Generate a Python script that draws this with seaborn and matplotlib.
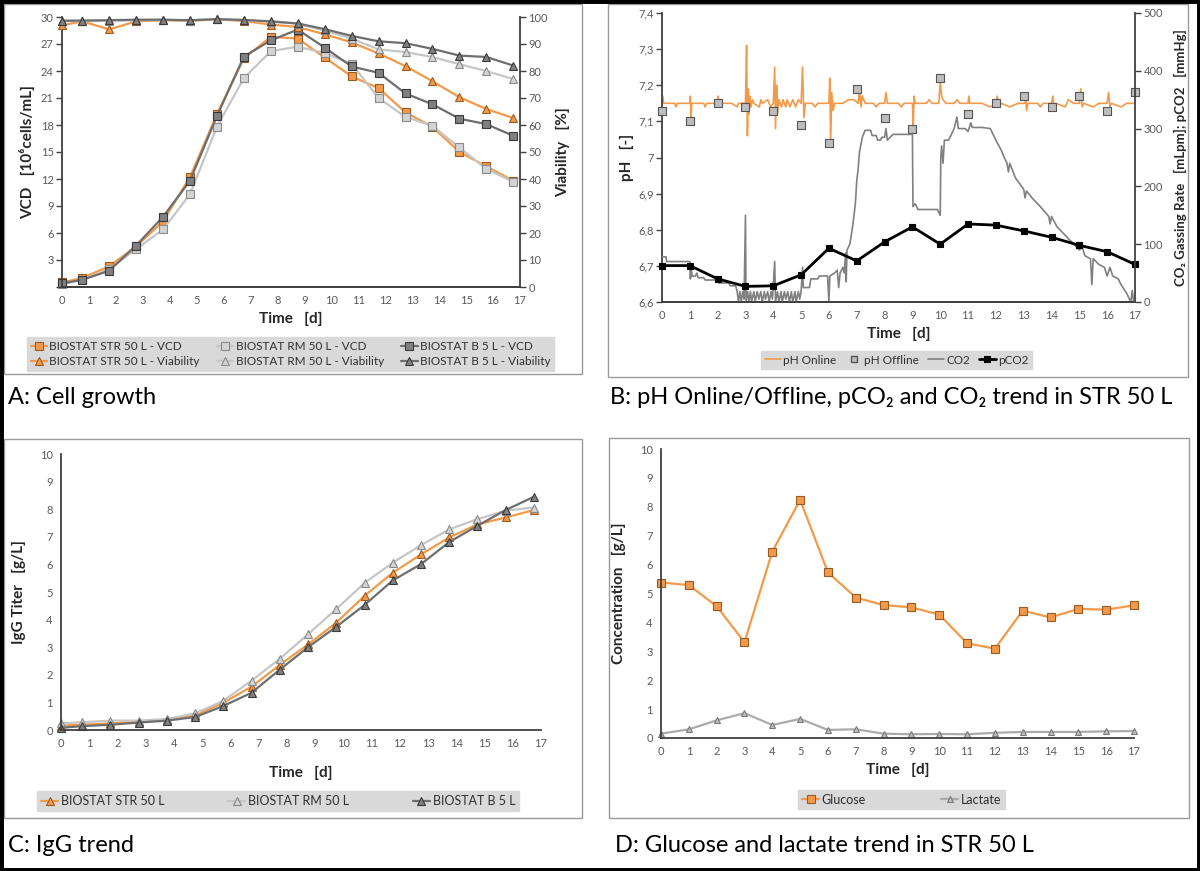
import matplotlib
matplotlib.use('Agg')
import matplotlib.pyplot as plt
from matplotlib.patches import Rectangle
from matplotlib.lines import Line2D
import seaborn as sns

# Time axis of the cell culture samples (A and C)
t_days = [0, 0.75, 1.75, 2.75, 3.75, 4.75, 5.75, 6.75, 7.75, 8.75,
          9.75, 10.75, 11.75, 12.75, 13.75, 14.75, 15.75, 16.75]
# integer days (B offline values, D)
days = [0, 1, 2, 3, 4, 5, 6, 7, 8, 9, 10, 11, 12, 13, 14, 15, 16, 17]

# A: VCD [10^6 cells/mL]
vcd_str = [0.5, 1.0, 2.3, 4.5, 7.3, 12.2, 19.2, 25.4, 27.8, 27.6, 25.5, 23.4, 22.1, 19.4, 17.8, 15.0, 13.4, 11.8]
vcd_rm = [0.3, 0.8, 2.0, 4.2, 6.4, 10.3, 17.8, 23.2, 26.2, 26.7, 26.0, 24.8, 21.0, 18.9, 17.9, 15.5, 13.1, 11.7]
vcd_b5 = [0.4, 0.8, 1.8, 4.6, 7.8, 11.8, 19.0, 25.6, 27.4, 28.6, 26.6, 24.5, 23.8, 21.5, 20.3, 18.7, 18.1, 16.8]
# A: viability [%]
via_str = [96.9, 98.4, 95.4, 98.4, 98.8, 98.6, 99.1, 98.5, 97.2, 96.3, 93.6, 90.6, 86.5, 81.8, 76.2, 70.3, 65.9, 62.6]
via_rm = [98.5, 98.5, 98.6, 98.8, 99.0, 98.7, 99.2, 98.8, 98.2, 97.5, 95.0, 92.0, 88.0, 87.0, 85.2, 82.5, 80.0, 77.0]
via_b5 = [98.6, 98.7, 98.8, 99.0, 99.0, 98.8, 99.2, 98.9, 98.4, 97.6, 95.5, 93.0, 91.0, 90.3, 88.2, 85.7, 85.2, 82.0]

# B: pH online trace
ph_on_t = [0.00, 0.03, 0.06, 0.45, 0.5, 0.55, 1.0, 1.02, 1.04, 1.07, 1.5, 1.55, 1.6, 2.0, 2.02, 2.05,
           2.5, 2.7, 2.75, 3.0, 3.04, 3.07, 3.1, 3.13, 3.16, 3.2, 3.25, 3.3, 3.5, 3.55, 3.6, 3.8, 3.9,
           4.0, 4.05, 4.08, 4.12, 4.15, 4.2, 4.3, 4.35, 4.45, 4.5, 4.6, 4.7, 4.8, 4.9, 5.0, 5.05, 5.1,
           5.15, 5.4, 5.5, 5.6, 6.0, 6.03, 6.06, 6.1, 6.15, 6.2, 6.5, 6.7, 6.9, 7.05, 7.1, 7.15, 7.2,
           7.3, 7.6, 7.7, 7.8, 8.0, 8.05, 8.1, 8.5, 8.6, 8.7, 9.0, 9.03, 9.06, 9.1, 9.5, 9.6, 9.7,
           9.95, 10.0, 10.05, 10.1, 10.2, 10.5, 10.6, 10.7, 11.0, 11.03, 11.06, 11.5, 11.8, 12.0,
           12.05, 12.1, 12.2, 12.5, 12.8, 13.05, 13.08, 13.1, 13.15, 13.5, 13.6, 13.7, 14.0, 14.05,
           14.1, 14.15, 14.5, 14.6, 14.8, 15.0, 15.05, 15.1, 15.15, 15.5, 15.7, 16.0, 16.05, 16.1,
           16.15, 16.5, 16.7, 17.0]
ph_on_v = [7.15, 7.17, 7.15, 7.15, 7.14, 7.15, 7.15, 7.17, 7.11, 7.15, 7.15, 7.14, 7.15, 7.15, 7.17, 7.15,
           7.15, 7.14, 7.15, 7.15, 7.31, 7.06, 7.19, 7.12, 7.17, 7.14, 7.16, 7.15, 7.14, 7.16, 7.15, 7.16, 7.14,
           7.15, 7.25, 7.08, 7.20, 7.12, 7.16, 7.14, 7.16, 7.14, 7.16, 7.14, 7.16, 7.14, 7.16, 7.15, 7.25, 7.11,
           7.15, 7.15, 7.14, 7.15, 7.15, 7.22, 7.04, 7.18, 7.13, 7.15, 7.15, 7.16, 7.16, 7.15, 7.19, 7.14, 7.17,
           7.15, 7.15, 7.14, 7.15, 7.15, 7.18, 7.15, 7.15, 7.14, 7.15, 7.15, 7.09, 7.17, 7.15, 7.15, 7.16, 7.15,
           7.15, 7.21, 7.17, 7.16, 7.15, 7.15, 7.16, 7.15, 7.15, 7.17, 7.15, 7.15, 7.14, 7.15,
           7.17, 7.14, 7.15, 7.14, 7.15, 7.15, 7.17, 7.13, 7.15, 7.15, 7.14, 7.15, 7.15, 7.17,
           7.13, 7.15, 7.14, 7.16, 7.15, 7.15, 7.19, 7.14, 7.15, 7.14, 7.15, 7.15, 7.18, 7.14,
           7.15, 7.14, 7.15, 7.15]
# B: pH offline samples
ph_off = [7.13, 7.10, 7.15, 7.14, 7.13, 7.09, 7.04, 7.19, 7.11, 7.08, 7.22, 7.12, 7.15, 7.17, 7.14, 7.17, 7.13, 7.18]
# B: CO2 gassing rate [mLpm]
co2_t = [0.0, 0.15, 0.16, 1.0, 1.02, 1.05, 1.08, 1.2, 1.25, 1.3, 1.5, 1.55, 2.0, 2.05, 2.4, 2.45, 2.65,
         2.7, 2.75, 2.8, 2.85, 2.9, 2.95, 3.0, 3.02, 3.08, 3.12, 3.18, 3.22, 3.3, 3.35, 3.42, 3.48, 3.55,
         3.6, 3.68, 3.72, 3.8, 3.85, 3.92, 3.97, 4.05, 4.08, 4.15, 4.2, 4.28, 4.32, 4.4, 4.45, 4.52, 4.58,
         4.65, 4.7, 4.78, 4.82, 4.9, 4.95, 5.0, 5.05, 5.08, 5.3, 5.35, 5.6, 5.65, 5.95, 6.0, 6.03, 6.2,
         6.3, 6.35, 6.4, 6.5, 6.55, 6.6, 6.62, 6.65, 6.75, 6.85, 6.95, 7.0, 7.05, 7.1, 7.2, 7.3, 7.5,
         7.55, 7.7, 7.75, 7.85, 7.9, 8.0, 8.05, 8.1, 8.2, 8.3, 9.0, 9.02, 9.1, 9.2, 9.9, 10.0, 10.02,
         10.05, 10.1, 10.15, 10.3, 10.4, 10.5, 10.6, 10.65, 10.9, 11.0, 11.1, 11.15, 11.5, 11.8, 12.0,
         12.2, 12.3, 12.4, 12.45, 12.5, 12.7, 13.0, 13.05, 13.1, 13.3, 13.6, 13.9, 13.95, 14.0, 14.2,
         14.5, 14.8, 15.0, 15.1, 15.2, 15.4, 15.45, 15.5, 15.7, 15.9, 16.0, 16.1, 16.2, 16.4, 16.5,
         16.7, 16.8, 16.85, 16.9, 16.95, 17.0]
co2_v = [78, 78, 70, 70, 40, 60, 45, 45, 50, 42, 42, 38, 38, 33, 33, 28, 28,
         18, 0, 18, 0, 18, 5, 150, 0, 18, 0, 18, 0, 18, 0, 18, 5, 18,
         0, 18, 5, 18, 0, 18, 5, 70, 0, 18, 0, 18, 0, 18, 5, 18, 0,
         18, 0, 18, 0, 18, 5, 18, 60, 25, 25, 40, 40, 45, 45, 0, 45, 50,
         55, 25, 50, 60, 50, 85, 35, 90, 100, 130, 170, 210, 230, 260, 285, 297, 297,
         288, 288, 280, 280, 285, 285, 300, 280, 285, 290, 290, 165, 170, 160, 160, 150, 250,
         270, 240, 280, 280, 290, 300, 320, 300, 300, 295, 310, 302, 302, 300, 280,
         262, 250, 240, 225, 240, 215, 195, 180, 192, 180, 165, 148, 135, 148, 130,
         115, 100, 90, 95, 80, 75, 30, 75, 65, 60, 45, 60, 45, 40, 30,
         15, 5, 0, 20, 0, 0]
# B: pCO2 [mmHg]
pco2 = [63, 63, 40, 27, 28, 47, 93, 71, 104, 130, 100, 135, 133, 123, 112, 98, 87, 65]

# C: IgG titer [g/L]
igg_str = [0.16, 0.19, 0.24, 0.29, 0.36, 0.53, 0.99, 1.57, 2.36, 3.10, 3.89, 4.86, 5.70, 6.36, 6.98, 7.45, 7.70, 7.97]
igg_rm = [0.24, 0.28, 0.34, 0.34, 0.40, 0.60, 1.06, 1.79, 2.58, 3.47, 4.38, 5.33, 6.06, 6.70, 7.27, 7.64, 7.95, 8.06]
igg_b5 = [0.08, 0.14, 0.19, 0.27, 0.34, 0.47, 0.87, 1.35, 2.19, 3.00, 3.74, 4.53, 5.42, 6.01, 6.81, 7.40, 7.97, 8.45]

# D: glucose / lactate [g/L]
glucose = [5.38, 5.29, 4.56, 3.31, 6.45, 8.24, 5.73, 4.86, 4.60, 4.52, 4.27, 3.28, 3.09, 4.41, 4.17, 4.47, 4.44, 4.59]
lactate = [0.15, 0.30, 0.61, 0.86, 0.45, 0.66, 0.28, 0.30, 0.15, 0.13, 0.14, 0.13, 0.18, 0.21, 0.21, 0.21, 0.23, 0.24]

# colores
OR, OR_E = '#F39A4A', '#9A5A22'
LG, LG_F, LG_E = '#C6C6C6', '#D4D4D4', '#8A8A8A'
DG, DG_F, DG_E = '#6E6E6E', '#808080', '#3A3A3A'
TXT = '#262626'
TICK = '#5A5A5A'

sns.set_style('white')
plt.rcParams['font.family'] = ['Lato', 'DejaVu Sans']

W, H = 1200, 871
fig = plt.figure(figsize=(12, 8.71), dpi=100)


def box(x0, y0, x1, y1):
    return [x0 / W, 1 - y1 / H, (x1 - x0) / W, (y1 - y0) / H]


def style(ax, right=False):
    ax.spines['top'].set_visible(False)
    ax.spines['right'].set_visible(right)
    for s in ['left', 'bottom', 'right']:
        ax.spines[s].set_color('#404040')
        ax.spines[s].set_linewidth(1.3)
    ax.tick_params(direction='out', length=4, width=1, color='#404040',
                   labelsize=8, labelcolor=TICK, pad=2)
    ax.set_xlim(0, 17)
    ax.set_xticks(days)


def line(ax, x, y, c, mk, fc, ec, lab, lw=1.6, ms=5.5):
    sns.lineplot(x=x, y=y, ax=ax, color=c, lw=lw, marker=mk, markersize=ms,
                 markerfacecolor=fc, markeredgecolor=ec, markeredgewidth=0.8,
                 label=lab, estimator=None, clip_on=False)


# panel frames
for b in [(4, 4, 582, 374), (608, 4, 1188, 377), (4, 439, 582, 818), (609, 438, 1189, 818)]:
    fig.patches.append(Rectangle((b[0] / W, 1 - b[3] / H), (b[2] - b[0]) / W, (b[3] - b[1]) / H,
                                 transform=fig.transFigure, fill=False, ec='#9A9A9A', lw=1))
fig.patches.append(Rectangle((0, 0), 1, 1, transform=fig.transFigure, fill=False, ec='black', lw=5))

# ---------------- A
axA = fig.add_axes(box(62, 17, 520, 287))
axA2 = axA.twinx()
line(axA, t_days, vcd_str, OR, 's', OR, OR_E, 'BIOSTAT STR 50 L - VCD')
line(axA, t_days, vcd_rm, LG, 's', LG_F, LG_E, 'BIOSTAT RM 50 L - VCD')
line(axA, t_days, vcd_b5, DG, 's', DG_F, DG_E, 'BIOSTAT B 5 L - VCD')
line(axA2, t_days, via_str, OR, '^', OR, OR_E, 'BIOSTAT STR 50 L - Viability')
line(axA2, t_days, via_rm, LG, '^', LG_F, LG_E, 'BIOSTAT RM 50 L - Viability')
line(axA2, t_days, via_b5, DG, '^', DG_F, DG_E, 'BIOSTAT B 5 L - Viability')
style(axA)
style(axA2, right=True)
axA2.spines['left'].set_visible(False)
axA.set_ylim(0, 30)
axA.set_yticks(range(0, 31, 3))
axA.set_yticklabels([''] + [str(v) for v in range(3, 31, 3)])
axA2.set_ylim(0, 100)
axA2.set_yticks(range(0, 101, 10))
axA.set_xlabel('Time   [d]', fontsize=11, fontweight='bold', color=TXT, labelpad=4)
axA.set_ylabel('VCD   [10\u2076cells/mL]', fontsize=11, fontweight='bold', color=TXT, labelpad=4)
axA2.set_ylabel('Viability   [%]', fontsize=11, fontweight='bold', color=TXT, labelpad=6)
hA, lA = axA.get_legend_handles_labels()
hA2, lA2 = axA2.get_legend_handles_labels()
hA = [hA[0], hA2[0], hA[1], hA2[1], hA[2], hA2[2]]
lA = [lA[0], lA2[0], lA[1], lA2[1], lA[2], lA2[2]]

# ---------------- B
axB = fig.add_axes(box(662, 13, 1135, 302))
axB2 = axB.twinx()
sns.lineplot(x=ph_on_t, y=ph_on_v, ax=axB, color=OR, lw=1.2, estimator=None, label='pH Online')
sns.scatterplot(x=days, y=ph_off, ax=axB, marker='s', s=30, color='#BDBDBD', edgecolor='#555555',
                linewidth=0.8, label='pH Offline', zorder=5, clip_on=False)
sns.lineplot(x=co2_t, y=co2_v, ax=axB2, color='#808080', lw=1.2, estimator=None, label='CO2')
line(axB2, days, pco2, 'black', 's', 'black', 'black', 'pCO2', lw=2, ms=5)
style(axB)
style(axB2, right=True)
axB2.spines['left'].set_visible(False)
axB.set_ylim(6.6, 7.4)
ph_ticks = [6.6, 6.7, 6.8, 6.9, 7.0, 7.1, 7.2, 7.3, 7.4]
axB.set_yticks(ph_ticks)
axB.set_yticklabels(['6,6', '6,7', '6,8', '6,9', '7', '7,1', '7,2', '7,3', '7,4'])
axB2.set_ylim(0, 500)
axB2.set_yticks(range(0, 501, 100))
axB.set_xlabel('Time   [d]', fontsize=11, fontweight='bold', color=TXT, labelpad=4)
axB.set_ylabel('pH   [-]', fontsize=11, fontweight='bold', color=TXT, labelpad=3)
axB2.set_ylabel('CO\u2082 Gassing Rate   [mLpm]; pCO2   [mmHg]', fontsize=9.5, fontweight='bold',
                color=TXT, labelpad=8)
hB2, lB2 = axB2.get_legend_handles_labels()
hB = [Line2D([], [], color=OR, lw=1.2),
      Line2D([], [], ls='none', marker='s', ms=5, mfc='#BDBDBD', mec='#555555'),
      Line2D([], [], color='#808080', lw=1.2), hB2[1]]
lB = ['pH Online', 'pH Offline', 'CO2', 'pCO2']

# ---------------- C
axC = fig.add_axes(box(61, 454, 541, 730))
line(axC, t_days, igg_str, OR, '^', OR, OR_E, 'BIOSTAT STR 50 L')
line(axC, t_days, igg_rm, LG, '^', LG_F, LG_E, 'BIOSTAT RM 50 L')
line(axC, t_days, igg_b5, DG, '^', DG_F, DG_E, 'BIOSTAT B 5 L')
style(axC)
axC.set_ylim(0, 10)
axC.set_yticks(range(0, 11))
axC.set_xlabel('Time   [d]', fontsize=11, fontweight='bold', color=TXT, labelpad=12)
axC.set_ylabel('IgG Titer   [g/L]', fontsize=11, fontweight='bold', color=TXT, labelpad=10)
hC, lC = axC.get_legend_handles_labels()

# ---------------- D
axD = fig.add_axes(box(661, 449, 1134, 738))
line(axD, days, glucose, OR, 's', OR, OR_E, 'Glucose')
line(axD, days, lactate, '#ABABAB', '^', '#BDBDBD', '#7A7A7A', 'Lactate', ms=5)
style(axD)
axD.set_ylim(0, 10)
axD.set_yticks(range(0, 11))
axD.set_xlabel('Time   [d]', fontsize=11, fontweight='bold', color=TXT, labelpad=4)
axD.set_ylabel('Concentration   [g/L]', fontsize=11, fontweight='bold', color=TXT, labelpad=10)
hD, lD = axD.get_legend_handles_labels()

for ax in [axA, axA2, axB, axB2, axC, axD]:
    if ax.get_legend() is not None:
        ax.get_legend().remove()


# legends
def leg(h, l, b, ncol, fs=8.5):
    x0, y0, x1, y1 = b
    fig.legend(h, l, loc='center', bbox_to_anchor=(x0 / W, 1 - y1 / H, (x1 - x0) / W, (y1 - y0) / H),
               mode='expand', ncol=ncol, frameon=True, fancybox=False, facecolor='#D9D9D9',
               edgecolor='#D9D9D9', framealpha=1, borderaxespad=0, handlelength=1.4,
               handletextpad=0.2, fontsize=fs, labelspacing=0.35, borderpad=0.3,
               labelcolor='#303030')


leg(hA, lA, (27, 335, 554, 373), 3)
leg(hB, lB, (761, 351, 1032, 369), 4)
leg(hC, lC, (37, 789, 519, 813), 3, fs=9)
leg(hD, lD, (798, 790, 1005, 809), 2, fs=9)

# captions
fig.text(8 / W, 1 - 397 / H, 'A: Cell growth', fontsize=17, va='center', color='black')
fig.text(610 / W, 1 - 397 / H, 'B: pH Online/Offline, pCO\u2082 and CO\u2082 trend in STR 50 L',
         fontsize=17, va='center', color='black')
fig.text(8 / W, 1 - 845 / H, 'C: IgG trend', fontsize=17, va='center', color='black')
fig.text(615 / W, 1 - 845 / H, 'D: Glucose and lactate trend in STR 50 L', fontsize=17,
         va='center', color='black')

fig.savefig('out.png', dpi=100)
